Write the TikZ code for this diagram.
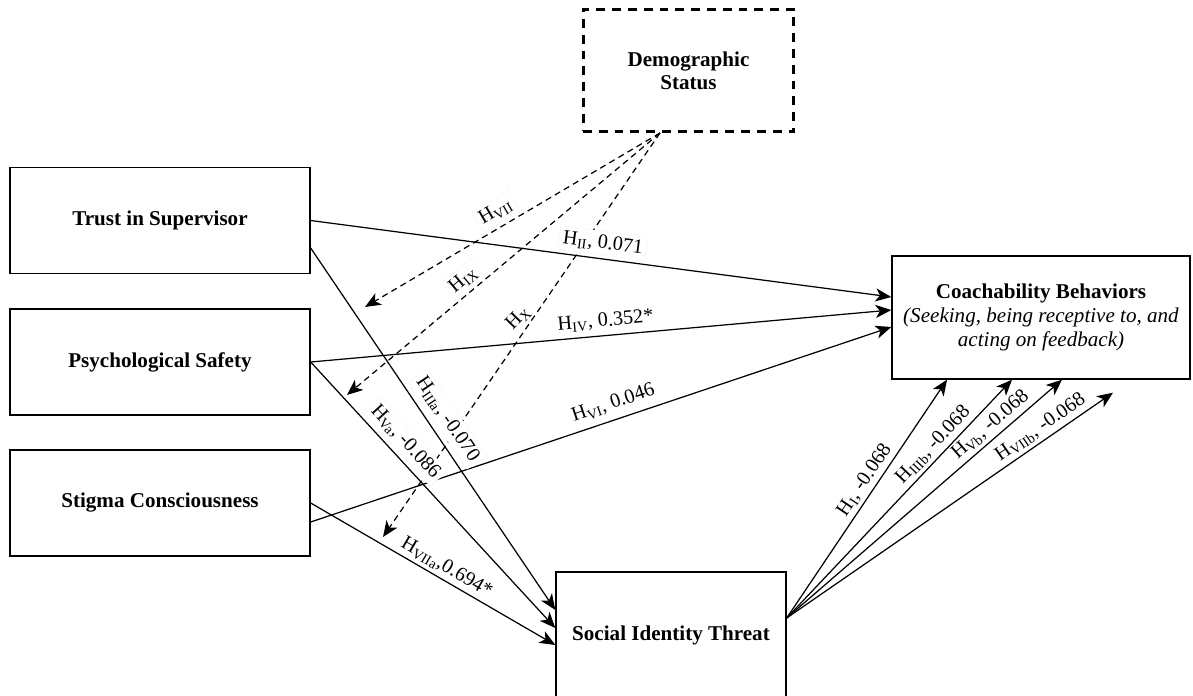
\documentclass[tikz,border=0pt]{standalone}
\usepackage{fontspec}
\setmainfont{Liberation Serif}
\usetikzlibrary{arrows.meta,calc,positioning}

\tikzset{
  varbox/.style={draw, line width=0.8pt, align=center, inner sep=2pt,
    font=\fontsize{12}{14}\selectfont\bfseries},
  effect/.style={line width=0.7pt, -{Stealth[length=9pt,width=7.5pt,inset=2.5pt]}},
  moderate/.style={effect, dash pattern=on 3.5pt off 2.5pt},
  hlab/.style={font=\fontsize{11.5}{13}\selectfont, inner sep=2pt, sloped, above},
  hbox/.style={hlab, fill=white, draw=gray!25, densely dotted, line width=0.3pt},
}

\begin{document}
\begin{tikzpicture}[x=0.02cm,y=-0.02cm]
\useasboundingbox (0,0) rectangle (1193,696);

% Constructs
\node[varbox, minimum width=6cm, minimum height=2.12cm] (trust) at (160,220.5) {Trust in Supervisor};
\node[varbox, minimum width=6cm, minimum height=2.12cm] (psafe) at (160,362) {Psychological Safety};
\node[varbox, minimum width=6cm, minimum height=2.12cm] (stigma) at (160,503) {Stigma Consciousness};
\node[varbox, minimum width=4.22cm, minimum height=2.44cm, line width=1.7pt,
  dash pattern=on 5pt off 4pt, font=\fontsize{12}{13.2}\selectfont\bfseries] (demo) at (688.5,70.5) {Demographic\\Status};
\node[varbox, minimum width=5.96cm, minimum height=2.46cm, font=\fontsize{12}{13.8}\selectfont] (coach) at (1041,317.5)
  {\textbf{Coachability Behaviors}\\\textit{(Seeking, being receptive to, and}\\\textit{acting on feedback)}};
\node[varbox, minimum width=4.6cm, minimum height=2.52cm] (sit) at (671,635) {Social Identity Threat};

% Moderation by demographic status
\coordinate (m7) at (365,307);
\coordinate (m9) at (347,395);
\coordinate (m10) at (383,537);
\draw[moderate] ([xshift=-0.57cm]demo.south) -- (m7) node[hbox, pos=.53, above=2pt] (l7) {H\textsubscript{VII}};
\draw[moderate] ([xshift=-0.57cm]demo.south) -- (m9) node[hbox, pos=.6, above=1pt] (l9) {H\textsubscript{IX}};
\draw[moderate] ([xshift=-0.57cm]demo.south) -- (m10) node[hlab, pos=.48, rotate=-10] (l10) {H\textsubscript{X}};

% Direct paths to coachability
\draw[effect] ([yshift=-0.38cm]stigma.east) -- ([yshift=-0.19cm]coach.west)
  node[hlab, pos=.53, above=2pt] (l6) {H\textsubscript{VI}, 0.046};
\draw[effect] (trust.east) -- ([yshift=0.41cm]coach.west)
  node[hbox, pos=.5, above=2pt] (l2) {H\textsubscript{II}, 0.071};
\draw[effect] (psafe.east) -- ([yshift=0.15cm]coach.west)
  node[hlab, pos=.51, above=1pt] (l4) {H\textsubscript{IV}, 0.352*};

% Paths to social identity threat
\draw[effect] ([yshift=-0.55cm]trust.east) -- ([yshift=0.5cm]sit.west)
  node[hbox, pos=.5, above=3pt] (l3a) {H\textsubscript{IIIa}, -0.070};
\draw[effect] (psafe.east) -- ([yshift=0.14cm]sit.west)
  node[hbox, pos=.34, above=2pt] (l5a) {H\textsubscript{Va}, -0.086};
\draw[effect] (stigma.east) -- ([yshift=-0.2cm]sit.west)
  node[hlab, pos=.53] (l7a) {H\textsubscript{VIIa},0.694*};

% Social identity threat to coachability
\draw[effect] ([yshift=0.34cm]sit.east) -- ([xshift=-1.88cm]coach.south)
  node[hlab, pos=.55] (l1) {H\textsubscript{I}, -0.068};
\draw[effect] ([yshift=0.34cm]sit.east) -- ([xshift=-0.58cm]coach.south)
  node[hlab, pos=.69] (l3b) {H\textsubscript{IIIb}, -0.068};
\draw[effect] ([yshift=0.34cm]sit.east) -- ([xshift=0.42cm]coach.south)
  node[hlab, pos=.77] (l5b) {H\textsubscript{Vb}, -0.068};
\draw[effect] ([yshift=0.34cm]sit.east) -- ([xshift=1.44cm,yshift=-0.26cm]coach.south)
  node[hlab, pos=.8] (l7b) {H\textsubscript{VIIb}, -0.068};
\end{tikzpicture}
\end{document}
